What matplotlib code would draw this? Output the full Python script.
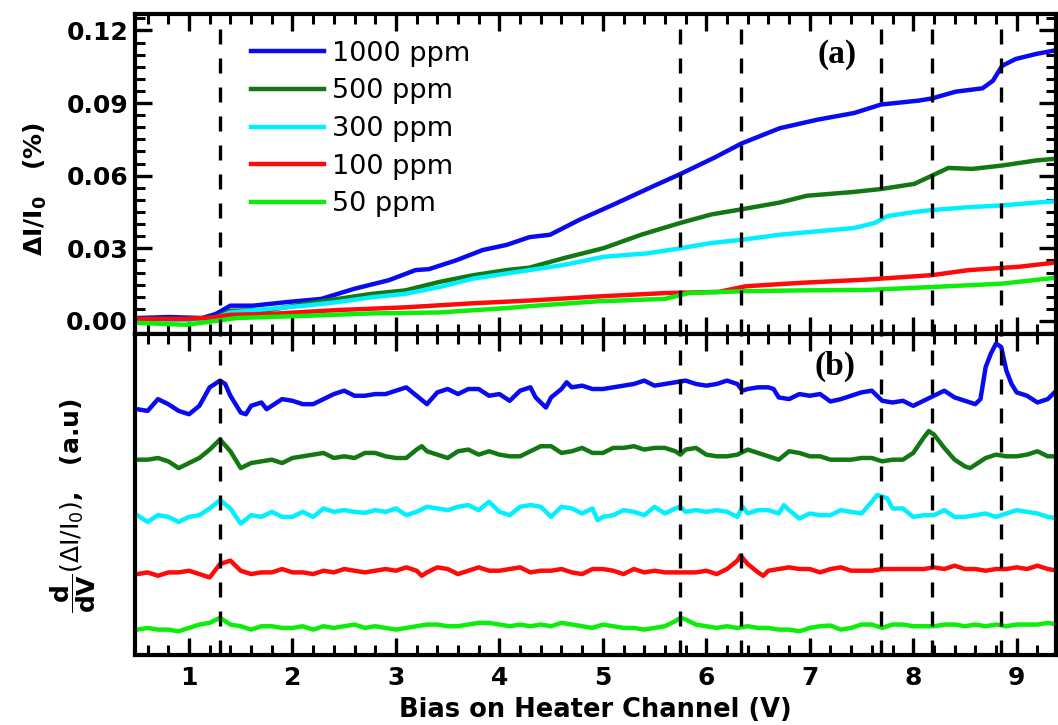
import matplotlib
matplotlib.use("Agg")
import matplotlib.pyplot as plt
from matplotlib.ticker import MultipleLocator, FormatStrFormatter

# top panel: relative change dI/I0 (%)
top_1000 = [(0.5, 0.0012), (0.8, 0.0016), (1.13, 0.0012), (1.26, 0.0029), (1.40, 0.0063), (1.62, 0.0063),
            (1.95, 0.0078), (2.28, 0.0091), (2.60, 0.0133), (2.93, 0.0168), (3.19, 0.0210), (3.32, 0.0214),
            (3.58, 0.0250), (3.84, 0.0293), (4.07, 0.0314), (4.29, 0.0346), (4.49, 0.0356), (4.78, 0.0419),
            (5.11, 0.0482), (5.50, 0.0559), (5.75, 0.0607), (6.09, 0.0677), (6.34, 0.0733), (6.71, 0.0796),
            (7.07, 0.0831), (7.43, 0.0859), (7.69, 0.0894), (8.05, 0.0910), (8.18, 0.0919), (8.41, 0.0947),
            (8.67, 0.0961), (8.77, 0.0992), (8.86, 0.1054), (8.99, 0.1082), (9.19, 0.1103), (9.45, 0.1124)]
top_500 = [(0.5, 0.0008), (1.0, 0.0008), (1.26, 0.0015), (1.40, 0.0042), (1.79, 0.0046), (2.12, 0.0070),
           (2.44, 0.0091), (2.77, 0.0112), (3.09, 0.0126), (3.42, 0.0161), (3.75, 0.0189), (4.07, 0.0210),
           (4.29, 0.0220), (4.62, 0.0259), (5.01, 0.0301), (5.37, 0.0356), (5.75, 0.0405), (6.05, 0.0440),
           (6.34, 0.0461), (6.71, 0.0489), (6.97, 0.0517), (7.43, 0.0533), (7.69, 0.0545), (8.01, 0.0566),
           (8.18, 0.0600), (8.34, 0.0632), (8.57, 0.0628), (8.86, 0.0642), (9.19, 0.0663), (9.45, 0.0673)]
top_300 = [(0.5, 0.0005), (1.0, 0.0005), (1.26, 0.0012), (1.40, 0.0035), (2.12, 0.0063), (2.44, 0.0078),
           (2.77, 0.0098), (3.09, 0.0112), (3.42, 0.0140), (3.75, 0.0175), (4.07, 0.0196), (4.29, 0.0210),
           (4.62, 0.0231), (5.01, 0.0265), (5.43, 0.0279), (5.75, 0.0300), (6.05, 0.0322), (6.34, 0.0335),
           (6.71, 0.0356), (7.07, 0.0370), (7.43, 0.0384), (7.63, 0.0405), (7.75, 0.0433), (8.01, 0.0450),
           (8.18, 0.0458), (8.54, 0.0470), (8.86, 0.0477), (9.19, 0.0489), (9.45, 0.0496)]
top_100 = [(0.5, 0.0008), (0.97, 0.0008), (1.2, 0.0013), (1.40, 0.0025), (1.79, 0.0029), (2.44, 0.0045),
           (3.09, 0.0056), (3.75, 0.0073), (4.29, 0.0084), (4.95, 0.0101), (5.60, 0.0115), (6.12, 0.0120),
           (6.38, 0.0143), (6.90, 0.0157), (7.56, 0.0171), (8.18, 0.0189), (8.54, 0.0210), (9.03, 0.0224),
           (9.45, 0.0245)]
top_50 = [(0.5, -0.0008), (0.97, -0.0016), (1.26, 0.0), (1.46, 0.0012), (2.12, 0.0021), (2.77, 0.0031),
          (3.42, 0.0035), (4.07, 0.0053), (4.29, 0.0061), (4.95, 0.0081), (5.60, 0.0091), (5.83, 0.0115),
          (6.38, 0.0123), (6.90, 0.0126), (7.56, 0.0128), (8.18, 0.0140), (8.86, 0.0154), (9.45, 0.0182)]

# bottom panel: derivative traces, offset (a.u.)
d_1000 = [(0.5, 7.29), (0.6, 7.24), (0.7, 7.59), (0.8, 7.44), (0.9, 7.24), (1.0, 7.14), (1.1, 7.39), (1.2, 7.94),
          (1.3, 8.14), (1.35, 8.04), (1.4, 7.69), (1.5, 7.19), (1.55, 7.14), (1.6, 7.39), (1.7, 7.49), (1.75, 7.29),
          (1.8, 7.39), (1.9, 7.59), (2.0, 7.54), (2.1, 7.44), (2.2, 7.44), (2.3, 7.59), (2.4, 7.74), (2.5, 7.84),
          (2.6, 7.69), (2.7, 7.69), (2.8, 7.74), (2.9, 7.74), (3.0, 7.84), (3.1, 7.94), (3.2, 7.69), (3.3, 7.44),
          (3.4, 7.79), (3.5, 7.89), (3.6, 7.74), (3.7, 7.89), (3.8, 7.89), (3.9, 7.69), (4.0, 7.74), (4.1, 7.54),
          (4.2, 7.84), (4.3, 7.94), (4.35, 7.64), (4.45, 7.34), (4.5, 7.64), (4.6, 7.89), (4.65, 8.09), (4.7, 7.94),
          (4.8, 7.99), (4.9, 7.89), (5.0, 7.89), (5.1, 7.94), (5.2, 7.99), (5.3, 8.04), (5.4, 8.14), (5.5, 7.99),
          (5.6, 8.04), (5.7, 8.09), (5.8, 8.14), (5.9, 8.04), (6.0, 7.99), (6.1, 8.04), (6.2, 8.14), (6.3, 8.04),
          (6.35, 7.84), (6.4, 7.89), (6.5, 7.94), (6.6, 7.94), (6.65, 7.89), (6.7, 7.64), (6.8, 7.59), (6.9, 7.74),
          (7.0, 7.69), (7.1, 7.74), (7.2, 7.52), (7.3, 7.59), (7.4, 7.69), (7.5, 7.79), (7.6, 7.84), (7.7, 7.54),
          (7.8, 7.49), (7.9, 7.54), (8.0, 7.39), (8.1, 7.54), (8.2, 7.69), (8.3, 7.84), (8.4, 7.64), (8.5, 7.54),
          (8.6, 7.44), (8.65, 7.59), (8.7, 8.54), (8.75, 8.94), (8.8, 9.24), (8.85, 9.14), (8.9, 8.44), (8.95, 8.04),
          (9.0, 7.79), (9.1, 7.69), (9.2, 7.49), (9.3, 7.59), (9.4, 7.89)]
d_500 = [(0.5, 5.79), (0.6, 5.79), (0.7, 5.84), (0.8, 5.74), (0.9, 5.54), (1.0, 5.69), (1.1, 5.84), (1.2, 6.09),
         (1.3, 6.39), (1.4, 6.04), (1.5, 5.54), (1.6, 5.69), (1.7, 5.74), (1.8, 5.79), (1.9, 5.69), (2.0, 5.84),
         (2.1, 5.89), (2.2, 5.94), (2.3, 5.99), (2.4, 5.84), (2.5, 5.89), (2.6, 5.84), (2.7, 5.99), (2.8, 5.99),
         (2.9, 5.89), (3.0, 5.84), (3.1, 5.84), (3.2, 6.09), (3.25, 6.19), (3.3, 6.04), (3.4, 5.94), (3.5, 5.84),
         (3.6, 6.04), (3.7, 6.09), (3.8, 5.94), (3.9, 6.04), (4.0, 5.94), (4.1, 5.89), (4.2, 5.89), (4.3, 6.04),
         (4.4, 6.19), (4.5, 6.19), (4.6, 5.99), (4.7, 6.04), (4.8, 6.14), (4.9, 5.99), (5.0, 5.99), (5.1, 6.14),
         (5.2, 6.14), (5.3, 6.19), (5.4, 6.09), (5.5, 6.14), (5.6, 6.14), (5.7, 6.04), (5.75, 5.94), (5.8, 6.09),
         (5.9, 6.14), (6.0, 5.94), (6.1, 5.89), (6.2, 5.89), (6.3, 5.94), (6.4, 6.09), (6.5, 5.99), (6.6, 5.89),
         (6.7, 5.79), (6.8, 6.04), (6.9, 5.99), (7.0, 5.89), (7.1, 5.89), (7.2, 5.79), (7.3, 5.79), (7.4, 5.79),
         (7.5, 5.84), (7.6, 5.84), (7.7, 5.74), (7.8, 5.79), (7.9, 5.79), (8.0, 5.99), (8.1, 6.44), (8.15, 6.64),
         (8.2, 6.54), (8.3, 6.14), (8.4, 5.79), (8.5, 5.59), (8.55, 5.54), (8.6, 5.64), (8.7, 5.84), (8.8, 5.94),
         (8.9, 5.89), (9.0, 5.89), (9.1, 5.94), (9.2, 6.04), (9.3, 5.89), (9.4, 5.89)]
d_300 = [(0.5, 4.14), (0.6, 3.94), (0.7, 4.14), (0.8, 4.09), (0.9, 3.94), (1.0, 4.09), (1.1, 4.14), (1.2, 4.34),
         (1.3, 4.59), (1.4, 4.34), (1.5, 3.89), (1.6, 4.14), (1.7, 4.09), (1.8, 4.24), (1.9, 4.09), (2.0, 4.09),
         (2.1, 4.24), (2.2, 4.09), (2.3, 4.34), (2.4, 4.24), (2.5, 4.29), (2.6, 4.24), (2.7, 4.21), (2.8, 4.29),
         (2.9, 4.24), (3.0, 4.34), (3.1, 4.14), (3.2, 4.24), (3.3, 4.39), (3.4, 4.34), (3.5, 4.29), (3.6, 4.39),
         (3.7, 4.44), (3.8, 4.29), (3.9, 4.54), (4.0, 4.24), (4.1, 4.14), (4.2, 4.39), (4.3, 4.44), (4.4, 4.39),
         (4.5, 4.09), (4.6, 4.39), (4.7, 4.34), (4.8, 4.19), (4.9, 4.34), (4.95, 3.99), (5.0, 4.09), (5.1, 4.14),
         (5.2, 4.29), (5.3, 4.24), (5.4, 4.14), (5.5, 4.39), (5.6, 4.19), (5.7, 4.34), (5.75, 4.39), (5.8, 4.24),
         (5.9, 4.29), (6.0, 4.24), (6.1, 4.29), (6.2, 4.24), (6.3, 4.09), (6.35, 4.39), (6.4, 4.19), (6.5, 4.29),
         (6.6, 4.29), (6.7, 4.19), (6.75, 4.44), (6.8, 4.29), (6.9, 4.04), (7.0, 4.19), (7.1, 4.14), (7.2, 4.14),
         (7.3, 4.29), (7.4, 4.24), (7.5, 4.19), (7.6, 4.54), (7.65, 4.74), (7.7, 4.69), (7.75, 4.64), (7.8, 4.34),
         (7.9, 4.34), (8.0, 4.09), (8.1, 4.14), (8.2, 4.14), (8.3, 4.29), (8.4, 4.09), (8.5, 4.09), (8.6, 4.14),
         (8.7, 4.19), (8.8, 4.09), (8.9, 4.19), (9.0, 4.29), (9.1, 4.24), (9.2, 4.19), (9.3, 4.09), (9.4, 4.04)]
d_100 = [(0.5, 2.39), (0.6, 2.44), (0.7, 2.34), (0.8, 2.44), (0.9, 2.44), (1.0, 2.49), (1.1, 2.39), (1.2, 2.29),
         (1.3, 2.69), (1.35, 2.74), (1.4, 2.79), (1.5, 2.49), (1.6, 2.39), (1.7, 2.44), (1.8, 2.44), (1.9, 2.54),
         (2.0, 2.44), (2.1, 2.44), (2.2, 2.39), (2.3, 2.49), (2.4, 2.44), (2.5, 2.54), (2.6, 2.49), (2.7, 2.44),
         (2.8, 2.49), (2.9, 2.54), (3.0, 2.49), (3.1, 2.59), (3.2, 2.49), (3.25, 2.34), (3.3, 2.44), (3.4, 2.59),
         (3.5, 2.54), (3.6, 2.39), (3.7, 2.49), (3.8, 2.59), (3.9, 2.49), (4.0, 2.49), (4.1, 2.54), (4.2, 2.59),
         (4.3, 2.44), (4.4, 2.49), (4.5, 2.49), (4.6, 2.54), (4.7, 2.44), (4.8, 2.39), (4.9, 2.54), (5.0, 2.54),
         (5.1, 2.49), (5.2, 2.39), (5.3, 2.54), (5.4, 2.44), (5.5, 2.49), (5.6, 2.44), (5.7, 2.44), (5.8, 2.44),
         (5.9, 2.44), (6.0, 2.49), (6.1, 2.39), (6.2, 2.54), (6.3, 2.79), (6.33, 2.94), (6.4, 2.69), (6.5, 2.44),
         (6.55, 2.34), (6.6, 2.49), (6.7, 2.54), (6.8, 2.59), (6.9, 2.54), (7.0, 2.54), (7.1, 2.44), (7.2, 2.54),
         (7.3, 2.59), (7.4, 2.49), (7.5, 2.49), (7.6, 2.49), (7.7, 2.54), (7.8, 2.54), (7.9, 2.54), (8.0, 2.54),
         (8.1, 2.54), (8.2, 2.59), (8.3, 2.54), (8.4, 2.64), (8.5, 2.54), (8.6, 2.54), (8.7, 2.49), (8.8, 2.54),
         (8.9, 2.54), (9.0, 2.59), (9.1, 2.54), (9.2, 2.64), (9.3, 2.54), (9.4, 2.49)]
d_50 = [(0.5, 0.74), (0.6, 0.79), (0.7, 0.74), (0.8, 0.74), (0.9, 0.69), (1.0, 0.79), (1.1, 0.89), (1.2, 0.94),
        (1.3, 1.09), (1.4, 0.89), (1.5, 0.84), (1.6, 0.74), (1.7, 0.84), (1.8, 0.84), (1.9, 0.79), (2.0, 0.79),
        (2.1, 0.84), (2.2, 0.74), (2.3, 0.84), (2.4, 0.79), (2.5, 0.84), (2.6, 0.89), (2.7, 0.79), (2.8, 0.84),
        (2.9, 0.79), (3.0, 0.74), (3.1, 0.79), (3.2, 0.84), (3.3, 0.89), (3.4, 0.89), (3.5, 0.84), (3.6, 0.84),
        (3.7, 0.89), (3.8, 0.94), (3.9, 0.94), (4.0, 0.89), (4.1, 0.84), (4.2, 0.89), (4.3, 0.84), (4.4, 0.89),
        (4.5, 0.84), (4.6, 0.94), (4.7, 0.89), (4.8, 0.84), (4.9, 0.79), (5.0, 0.89), (5.1, 0.84), (5.2, 0.79),
        (5.3, 0.79), (5.4, 0.74), (5.5, 0.79), (5.6, 0.84), (5.7, 0.99), (5.75, 1.09), (5.8, 1.04), (5.9, 0.89),
        (6.0, 0.84), (6.1, 0.79), (6.2, 0.84), (6.3, 0.79), (6.4, 0.84), (6.5, 0.79), (6.6, 0.79), (6.7, 0.74),
        (6.8, 0.74), (6.9, 0.69), (7.0, 0.79), (7.1, 0.84), (7.2, 0.86), (7.3, 0.74), (7.4, 0.79), (7.5, 0.89),
        (7.6, 0.89), (7.7, 0.79), (7.8, 0.89), (7.9, 0.89), (8.0, 0.84), (8.1, 0.84), (8.2, 0.84), (8.3, 0.89),
        (8.4, 0.89), (8.5, 0.84), (8.6, 0.89), (8.7, 0.84), (8.8, 0.89), (8.9, 0.84), (9.0, 0.89), (9.1, 0.89),
        (9.2, 0.89), (9.3, 0.94), (9.4, 0.89)]

labels = ["1000 ppm", "500 ppm", "300 ppm", "100 ppm", "50 ppm"]
colors = ["#0a0af0", "#137813", "#00f0ff", "#ff0a0a", "#0aee0a"]
peaks = [1.30, 5.75, 6.34, 7.69, 8.18, 8.85]

plt.rcParams['mathtext.fontset'] = 'dejavusans'

fig = plt.figure(figsize=(10.58, 7.25), dpi=100)
ax1 = fig.add_axes([135 / 1058, 1 - 333.5 / 725, 921 / 1058, 320 / 725])
ax2 = fig.add_axes([135 / 1058, 1 - 654.5 / 725, 921 / 1058, 321 / 725])

lw = 3.2
for series, c, lab in zip([top_1000, top_500, top_300, top_100, top_50], colors, labels):
    xs, ys = zip(*series)
    ax1.plot(xs, ys, color=c, lw=lw, label=lab)

for series, c in zip([d_1000, d_500, d_300, d_100, d_50], colors):
    xs, ys = zip(*series)
    ax2.plot(xs, ys, color=c, lw=lw)

for ax in (ax1, ax2):
    for p in peaks:
        ax.axvline(p, color='black', lw=2.4, dashes=(4.5, 4.2), zorder=5)
    ax.set_xlim(0.478, 9.38)
    ax.xaxis.set_major_locator(MultipleLocator(1))
    ax.xaxis.set_minor_locator(MultipleLocator(0.2))
    for s in ax.spines.values():
        s.set_linewidth(3)
    ax.tick_params(which='major', direction='in', length=12, width=2.4)
    ax.tick_params(which='minor', direction='in', length=7, width=2.2)

ax1.set_ylim(-0.0052, 0.127)
ax1.yaxis.set_major_locator(MultipleLocator(0.03))
ax1.yaxis.set_minor_locator(MultipleLocator(0.005))
ax1.yaxis.set_major_formatter(FormatStrFormatter('%.2f'))
ax1.tick_params(which='both', top=True, right=True, labelbottom=False)
ax1.tick_params(axis='y', labelsize=18, pad=5)
for t in ax1.get_yticklabels():
    t.set_fontweight('bold')

ax2.set_ylim(0, 9.54)
ax2.tick_params(which='both', top=True, left=False, labelleft=False)
ax2.tick_params(axis='x', labelsize=18, pad=8)
for t in ax2.get_xticklabels():
    t.set_fontweight('bold')
ax2.set_xlabel("Bias on Heater Channel (V)", fontsize=18.5, fontweight='bold', labelpad=5)

leg = ax1.legend(loc='upper left', bbox_to_anchor=(0.126, 0.915), frameon=False,
                 fontsize=19.5, handlelength=2.7, handletextpad=0.3, labelspacing=0.43,
                 borderpad=0, borderaxespad=0)

ax1.text(7.26, 0.110, "(a)", fontsize=24, fontweight='bold', family='Liberation Serif',
         ha='center', va='center')
ax2.text(7.24, 8.56, "(b)", fontsize=24, fontweight='bold', family='Liberation Serif',
         ha='center', va='center')

fig.text(35 / 1058, 1 - 189 / 725, r"ΔI/I$_\mathbf{0}$   (%)", rotation=90, fontsize=18,
         fontweight='bold', ha='center', va='center')
fig.text(73 / 1058, 1 - 506 / 725,
         r"$\dfrac{\mathbf{d}}{\mathbf{dV}}\left(\mathrm{\Delta I/I_0}\right)$,   (a.u)",
         rotation=90, fontsize=18, fontweight='bold', ha='center', va='center')

fig.savefig("out.png", dpi=100)
